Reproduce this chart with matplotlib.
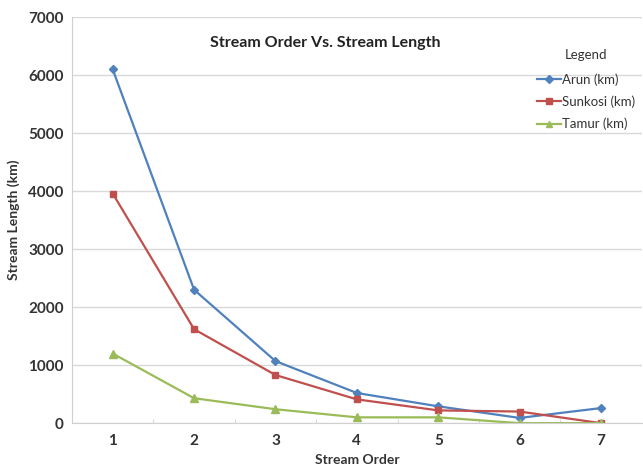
import numpy as np
import matplotlib
matplotlib.use("Agg")
import matplotlib.pyplot as plt

plt.rcParams['font.family'] = ['Lato', 'DejaVu Sans']

# data
orders = [1, 2, 3, 4, 5, 6, 7]
arun = [6100, 2300, 1070, 520, 290, 90, 260]
sunkosi = [3960, 1620, 830, 410, 220, 200, 0]
tamur = [1200, 430, 240, 100, 100, 0, 0]

fig = plt.figure(figsize=(6.43, 4.65), dpi=100)
ax = fig.add_axes([0.112, 0.090, 0.886, 0.873])

ax.plot(orders, arun, color='#4F81BD', marker='D', ms=4.5, lw=1.6, label='Arun (km)')
ax.plot(orders, sunkosi, color='#C0504D', marker='s', ms=5, lw=1.6, label='Sunkosi (km)')
ax.plot(orders, tamur, color='#9BBB59', marker='^', ms=5.5, lw=1.6, label='Tamur (km)')

ax.set_xlim(0.5, 7.5)
ax.set_ylim(0, 7000)
ax.set_yticks(np.arange(0, 7001, 1000))
ax.set_xticks(orders)
ax.set_xticks(np.arange(1.5, 7.5, 1), minor=True)
ax.grid(axis='y', color='#d9d9d9', lw=1)
ax.set_axisbelow(True)
for s in ['top', 'right']:
    ax.spines[s].set_visible(False)
ax.spines['left'].set_color('#d0d0d0')
ax.spines['bottom'].set_color('#d0d0d0')
ax.tick_params(axis='y', length=0, pad=6, labelsize=11, colors='#333333')
ax.tick_params(axis='x', which='major', length=0, pad=8, labelsize=11, colors='#333333')
ax.tick_params(axis='x', which='minor', length=3, direction='in', color='#d0d0d0')
for lab in ax.get_xticklabels() + ax.get_yticklabels():
    lab.set_fontweight('bold')

ax.set_xlabel('Stream Order', fontsize=10, fontweight='bold', color='#333333', labelpad=4)
ax.set_ylabel('Stream Length (km)', fontsize=10, fontweight='bold', color='#333333', labelpad=6)
ax.set_title('Stream Order Vs. Stream Length', fontsize=11.5, fontweight='bold',
             color='#222222', x=0.445, y=0.905)

leg = ax.legend(title='Legend', loc='upper left', bbox_to_anchor=(0.795, 0.952),
                frameon=False, fontsize=9.5, handlelength=1.8, handletextpad=0.1,
                labelspacing=0.75, markerscale=0.8)
leg.get_title().set_fontsize(9.5)
leg.get_title().set_color('#333333')
leg._legend_box.sep = 9
for t in leg.get_texts():
    t.set_color('#333333')

fig.savefig('out.png', dpi=100)
